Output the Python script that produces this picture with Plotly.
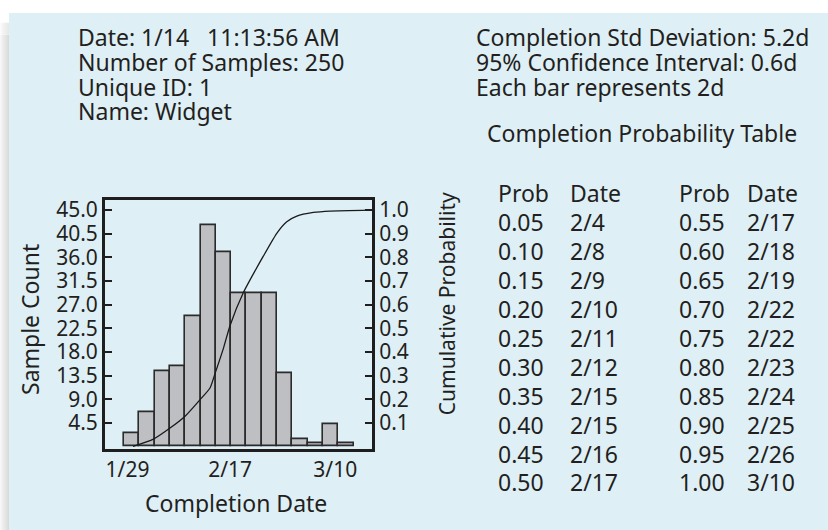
import plotly.graph_objects as go

W, H = 828, 530

# Histogram: one bar per 2-day bin
bin_index = list(range(15))
sample_counts = [2.6, 6.5, 14.3, 15.2, 24.9, 42.2, 37.0, 29.1, 29.1, 29.1, 13.9, 1.3, 0.6, 4.3, 0.7]

# Cumulative probability curve (x in bin units)
cum_x = [0.59, 1.92, 3.03, 3.99, 4.97, 5.62, 5.95, 6.49, 6.93, 7.80, 9.10, 9.98, 10.63, 11.29, 12.37, 13.46, 16.08]
cum_p = [0.0, 0.031, 0.079, 0.128, 0.198, 0.247, 0.309, 0.414, 0.512, 0.651, 0.805, 0.902, 0.951, 0.975, 0.990, 0.996, 1.0]

x_tick_pos = [0.23, 6.93, 13.8]
x_tick_text = ["1/29", "2/17", "3/10"]
count_ticks = [4.5, 9.0, 13.5, 18.0, 22.5, 27.0, 31.5, 36.0, 40.5, 45.0]
prob_ticks = [0.1, 0.2, 0.3, 0.4, 0.5, 0.6, 0.7, 0.8, 0.9, 1.0]

info_left = ["Date: 1/14   11:13:56 AM", "Number of Samples: 250", "Unique ID: 1", "Name: Widget"]
info_right = ["Completion Std Deviation: 5.2d", "95% Confidence Interval: 0.6d", "Each bar represents 2d"]
table_title = "Completion Probability Table"
prob_left = ["0.05", "0.10", "0.15", "0.20", "0.25", "0.30", "0.35", "0.40", "0.45", "0.50"]
date_left = ["2/4", "2/8", "2/9", "2/10", "2/11", "2/12", "2/15", "2/15", "2/16", "2/17"]
prob_right = ["0.55", "0.60", "0.65", "0.70", "0.75", "0.80", "0.85", "0.90", "0.95", "1.00"]
date_right = ["2/17", "2/18", "2/19", "2/22", "2/22", "2/23", "2/24", "2/25", "2/26", "3/10"]

FONT = "Noto Sans"
INK = "#231f20"
FS = 23
TICK_FS = 21
PANEL = "#dfeff6"


def px(x):
    return x / W


def py(y):
    return 1 - y / H


fig = go.Figure()
fig.add_trace(go.Bar(
    x=[i + 0.5 for i in bin_index], y=sample_counts, width=1.0,
    marker=dict(color="#bebfc3", line=dict(color="#2b2b2b", width=1.6)),
    yaxis="y", showlegend=False,
))
fig.add_trace(go.Scatter(
    x=cum_x, y=cum_p, mode="lines", yaxis="y2",
    line=dict(color="#1a1a1a", width=1.3, shape="spline", smoothing=0.6),
    showlegend=False,
))

y_top, y_bot = 46.9, -0.45
axis_line = dict(showline=True, linecolor="#1e1e1e", linewidth=3, showgrid=False, zeroline=False)
fig.update_layout(
    width=W, height=H,
    margin=dict(l=0, r=0, t=0, b=0),
    paper_bgcolor="white",
    plot_bgcolor="white",
    font=dict(family=FONT, size=TICK_FS, color=INK),
    bargap=0,
    xaxis=dict(
        domain=[px(105), px(372)], range=[-1.24, 16.2],
        tickvals=x_tick_pos, ticktext=x_tick_text, ticks="",
        mirror=True, tickfont=dict(size=TICK_FS), **axis_line,
    ),
    yaxis=dict(
        domain=[py(448), py(197)], range=[y_bot, y_top],
        tickvals=count_ticks, ticktext=[f"{v:.1f}" for v in count_ticks],
        ticks="inside", ticklen=7, tickwidth=1.5, tickcolor="#1e1e1e",
        tickfont=dict(size=TICK_FS), **axis_line,
    ),
    yaxis2=dict(
        overlaying="y", side="right", anchor="x",
        range=[y_bot / 45, y_top / 45],
        tickvals=prob_ticks, ticktext=[f"{v:.1f}" for v in prob_ticks],
        ticks="inside", ticklen=7, tickwidth=1.5, tickcolor="#1e1e1e",
        tickfont=dict(size=TICK_FS), **axis_line,
    ),
)

# Panel background and its soft left shadow
shapes = [
    dict(type="rect", xref="paper", yref="paper", x0=px(9), x1=1, y0=0, y1=py(8),
         fillcolor=PANEL, line=dict(width=0), layer="below"),
]
shadow = ["#f7f7f7", "#f3f3f3", "#efefef", "#ebebeb", "#e8e8e8", "#e5e5e5", "#e2e2e2", "#dedede", "#dadada"]
for i, c in enumerate(shadow):
    shapes.append(dict(type="rect", xref="paper", yref="paper", x0=px(i), x1=px(i + 1),
                       y0=0, y1=py(30), fillcolor=c, line=dict(width=0), layer="below"))
fade = ["#fbfbfb", "#f8f8f8", "#f5f5f5", "#f2f2f2", "#f0f0f0", "#eeeeee", "#ececec", "#eaeaea", "#e8e8e8"]
for i, c in enumerate(fade):
    shapes.append(dict(type="rect", xref="paper", yref="paper", x0=px(i), x1=px(i + 1),
                       y0=py(30), y1=py(18), fillcolor=c, line=dict(width=0), layer="below"))
fig.update_layout(shapes=shapes)

ann = []


def text(s, x, y, anchor="left", size=FS, **kw):
    ann.append(dict(text=s, x=px(x), y=py(y), xref="paper", yref="paper",
                    xanchor=anchor, yanchor="middle", showarrow=False,
                    font=dict(family=FONT, size=size, color=INK), **kw))


for i, s in enumerate(info_left):
    text(s, 76, 32.5 + 25 * i)
for i, s in enumerate(info_right):
    text(s, 474, 32.5 + 25 * i)
text(table_title, 485, 129)

row0 = 190
step = 29.2
text("Prob", 496, row0)
text("Date", 568, row0)
text("Prob", 677, row0)
text("Date", 745, row0)
for i in range(10):
    y = row0 + step * (i + 1)
    text(prob_left[i], 496, y)
    text(date_left[i], 568, y)
    text(prob_right[i], 677, y)
    text(date_right[i], 745, y)

text("Sample Count", 30, 318, anchor="center", textangle=-90)
text("Cumulative Probability", 447, 301, anchor="center", size=21, textangle=-90)
text("Completion Date", 236, 503, anchor="center")

fig.update_layout(annotations=ann)
fig.write_html("out.html")
